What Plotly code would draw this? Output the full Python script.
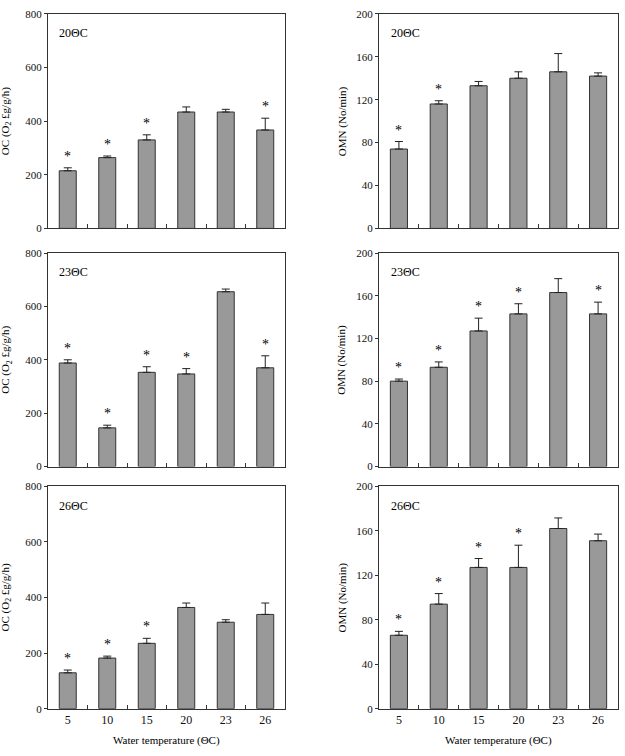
import plotly.graph_objects as go

categories = ["5", "10", "15", "20", "23", "26"]

oc_20 = [215, 264, 330, 434, 434, 367]
oc_20_err = [11, 6, 19, 19, 10, 44]
oc_20_sig = [1, 1, 1, 0, 0, 1]

omn_20 = [74, 116, 133, 140, 146, 142]
omn_20_err = [7, 3, 4, 6, 17, 3]
omn_20_sig = [1, 1, 0, 0, 0, 0]

oc_23 = [388, 145, 353, 347, 655, 370]
oc_23_err = [12, 10, 21, 20, 10, 45]
oc_23_sig = [1, 1, 1, 1, 0, 1]

omn_23 = [80, 93, 127, 143, 163, 143]
omn_23_err = [2, 5, 12, 9.5, 13, 11]
omn_23_sig = [1, 1, 1, 1, 0, 1]

oc_26 = [129, 182, 235, 364, 311, 339]
oc_26_err = [10, 7, 18, 16, 9, 41]
oc_26_sig = [1, 1, 1, 0, 0, 0]

omn_26 = [66, 94, 127, 127, 162, 151]
omn_26_err = [3.5, 9.5, 8, 20, 9.5, 6]
omn_26_sig = [1, 1, 1, 1, 0, 0]

panel_labels = ["20ΘC", "23ΘC", "26ΘC"]
oc_title = "OC (O<sub>2</sub> £g/g/h)"
omn_title = "OMN (No/min)"
x_title = "Water temperature (ΘC)"

W, H = 625, 756
FONT = "Liberation Serif"

# pixel layout (left, right, top, bottom)
xdoms = [(48, 285), (379, 618)]
ydoms = [(8, 226), (251, 468), (488, 714)]

panels = [
    (oc_20, oc_20_err, oc_20_sig, 0, 0, [0, 800], [0, 200, 400, 600, 800]),
    (omn_20, omn_20_err, omn_20_sig, 0, 1, [0, 200], [0, 40, 80, 120, 160, 200]),
    (oc_23, oc_23_err, oc_23_sig, 1, 0, [0, 800], [0, 200, 400, 600, 800]),
    (omn_23, omn_23_err, omn_23_sig, 1, 1, [0, 200], [0, 40, 80, 120, 160, 200]),
    (oc_26, oc_26_err, oc_26_sig, 2, 0, [0, 800], [0, 200, 400, 600, 800]),
    (omn_26, omn_26_err, omn_26_sig, 2, 1, [0, 200], [0, 40, 80, 120, 160, 200]),
]

fig = go.Figure()
annotations = []
layout = {}

for i, (vals, errs, sig, row, col, yr, ytv) in enumerate(panels):
    n = i + 1
    xa = "x" if n == 1 else f"x{n}"
    ya = "y" if n == 1 else f"y{n}"
    xkey = "xaxis" if n == 1 else f"xaxis{n}"
    ykey = "yaxis" if n == 1 else f"yaxis{n}"
    fig.add_trace(go.Bar(
        x=categories, y=vals, xaxis=xa, yaxis=ya,
        width=0.43,
        marker=dict(color="#999999", line=dict(color="#333333", width=1)),
        error_y=dict(type="data", array=errs, arrayminus=[0] * len(errs),
                     symmetric=False, color="#222222", thickness=1, width=4),
        showlegend=False,
    ))
    x0, x1 = xdoms[col]
    yt, yb = ydoms[row]
    layout[xkey] = dict(
        domain=[x0 / W, x1 / W], anchor=ya, type="category",
        categoryorder="array", categoryarray=categories,
        range=[-0.5, 5.5], tickson="boundaries", ticks="inside", ticklen=4,
        tickcolor="#333333", showline=True, linecolor="#333333", linewidth=1,
        mirror=True, showgrid=False, zeroline=False,
        showticklabels=(row == 2),
        tickfont=dict(family=FONT, size=12, color="#111111"),
        fixedrange=True,
    )
    layout[ykey] = dict(
        domain=[1 - yb / H, 1 - yt / H], anchor=xa, range=yr,
        tickvals=ytv, ticks="outside", ticklen=3, tickcolor="#333333",
        showline=True, linecolor="#333333", linewidth=1, mirror=True,
        showgrid=False, zeroline=False,
        tickfont=dict(family=FONT, size=11, color="#111111"),
        fixedrange=True,
    )
    # significance asterisks (category index positions)
    for j, (v, e, s) in enumerate(zip(vals, errs, sig)):
        if s:
            annotations.append(dict(
                x=j, y=v + e, xref=xa, yref=ya, text="*", showarrow=False,
                yanchor="bottom", yshift=2,
                font=dict(family=FONT, size=14, color="black"),
            ))
    # panel label
    annotations.append(dict(
        x=0.04, y=0.91, xref=f"{xa} domain", yref=f"{ya} domain",
        text=panel_labels[row], showarrow=False, xanchor="left", yanchor="middle",
        font=dict(family=FONT, size=12, color="black"),
    ))
    # y title
    yc = 1 - (yt + yb) / 2 / H
    annotations.append(dict(
        x=(6 if col == 0 else 342) / W, y=yc, xref="paper", yref="paper",
        text=oc_title if col == 0 else omn_title, textangle=-90,
        showarrow=False, xanchor="center", yanchor="middle",
        font=dict(family=FONT, size=11, color="black"),
    ))
    if row == 2:
        annotations.append(dict(
            x=(x0 + x1) / 2 / W, y=1 - 746 / H, xref="paper", yref="paper",
            text=x_title, showarrow=False, xanchor="center", yanchor="middle",
            font=dict(family=FONT, size=11, color="black"),
        ))

fig.update_layout(
    width=W, height=H, margin=dict(l=0, r=0, t=0, b=0),
    paper_bgcolor="white", plot_bgcolor="white",
    annotations=annotations, bargap=0.5,
    **layout,
)

fig.write_html("out.html")
